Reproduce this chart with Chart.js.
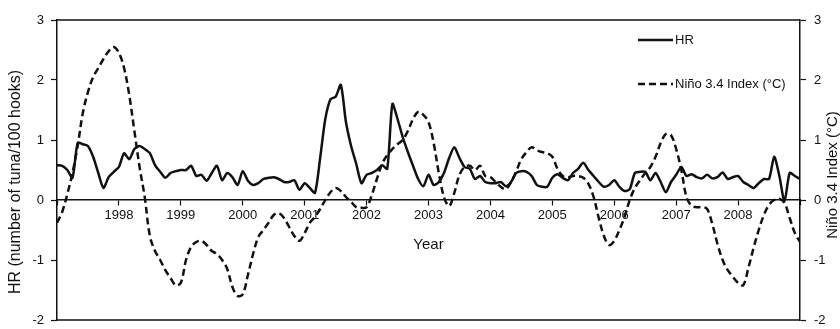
<!DOCTYPE html>
<html>
<head>
<meta charset="utf-8">
<script src="https://cdn.jsdelivr.net/npm/chart.js@4/dist/chart.umd.min.js"></script>
<style>
  html, body { margin: 0; padding: 0; background: #fff; }
  #wrap { width: 840px; height: 329px; }
</style>
</head>
<body>
<div id="wrap"><canvas id="chart"></canvas></div>
<script>
// monthly values, Jan 1997 .. Jan 2009
const startYear = 1997;
const yearTicks = [1998, 1999, 2000, 2001, 2002, 2003, 2004, 2005, 2006, 2007, 2008];

const hr = [
  0.58, 0.57, 0.50, 0.37, 0.95, 0.93, 0.90, 0.72, 0.45, 0.20, 0.38, 0.47,
  0.55, 0.78, 0.68, 0.85, 0.90, 0.85, 0.78, 0.58, 0.47, 0.37, 0.45, 0.48,
  0.50, 0.50, 0.57, 0.40, 0.42, 0.32, 0.45, 0.57, 0.33, 0.45, 0.38, 0.25,
  0.48, 0.32, 0.25, 0.28, 0.35, 0.37, 0.38, 0.35, 0.30, 0.30, 0.33, 0.17,
  0.28, 0.20, 0.12, 0.70, 1.35, 1.68, 1.72, 1.92, 1.30, 0.90, 0.60, 0.28,
  0.42, 0.45, 0.50, 0.58, 0.52, 1.60, 1.35, 1.05, 0.80, 0.57, 0.35, 0.23,
  0.42, 0.25, 0.30, 0.45, 0.70, 0.88, 0.70, 0.55, 0.52, 0.35, 0.40, 0.30,
  0.28, 0.28, 0.30, 0.23, 0.30, 0.45, 0.48, 0.47, 0.40, 0.25, 0.22, 0.22,
  0.37, 0.43, 0.37, 0.33, 0.45, 0.52, 0.62, 0.50, 0.40, 0.30, 0.22, 0.25,
  0.33, 0.22, 0.15, 0.18, 0.45, 0.47, 0.47, 0.33, 0.45, 0.30, 0.13, 0.30,
  0.42, 0.55, 0.40, 0.43, 0.38, 0.36, 0.42, 0.36, 0.38, 0.46, 0.35, 0.38,
  0.40, 0.30, 0.25, 0.20, 0.28, 0.35, 0.35, 0.72, 0.40, -0.02, 0.45, 0.40,
  0.35
];

const nino = [
  -0.38, -0.20, 0.10, 0.45, 0.90, 1.45, 1.80, 2.05, 2.20, 2.35, 2.48, 2.55,
  2.45, 2.20, 1.75, 1.15, 0.55, 0.05, -0.60, -0.85, -1.00, -1.17, -1.30, -1.42,
  -1.38, -1.00, -0.78, -0.70, -0.68, -0.75, -0.85, -0.90, -1.00, -1.15, -1.45, -1.60,
  -1.57, -1.25, -0.90, -0.62, -0.50, -0.38, -0.25, -0.22, -0.30, -0.45, -0.60, -0.68,
  -0.55, -0.38, -0.28, -0.15, 0.00, 0.13, 0.20, 0.15, 0.05, -0.03, -0.12, -0.13,
  -0.12, 0.08, 0.35, 0.60, 0.75, 0.85, 0.93, 1.00, 1.15, 1.35, 1.47, 1.42,
  1.30, 0.95, 0.45, 0.05, -0.10, 0.12, 0.42, 0.55, 0.57, 0.50, 0.57, 0.40,
  0.38, 0.30, 0.22, 0.18, 0.30, 0.48, 0.68, 0.80, 0.88, 0.83, 0.80, 0.78,
  0.72, 0.52, 0.40, 0.38, 0.40, 0.40, 0.37, 0.27, 0.05, -0.30, -0.60, -0.75,
  -0.68, -0.50, -0.28, 0.00, 0.20, 0.33, 0.45, 0.55, 0.72, 0.95, 1.10, 1.08,
  0.85, 0.50, 0.05, -0.10, -0.12, -0.12, -0.15, -0.40, -0.73, -1.00, -1.17, -1.28,
  -1.38, -1.42, -1.13, -0.80, -0.50, -0.25, -0.08, 0.00, 0.02, -0.05, -0.30, -0.55,
  -0.70
];

const toPoints = vals => vals.map((v, i) => ({ x: startYear + i / 12, y: v }));

const FONT = "'Liberation Sans', Arial, sans-serif";

function sideTitle(ctx, text, x, y, size) {
    ctx.save();
    ctx.translate(x, y);
    ctx.rotate(-Math.PI / 2);
    ctx.textAlign = 'center';
    ctx.textBaseline = 'middle';
    ctx.font = size + 'px ' + FONT;
    ctx.fillText(text, 0, 0);
    ctx.restore();
}

// frame lines, legend and the two vertical axis titles
const extras = {
    id: 'extras',
    afterDraw(chart) {
        const { ctx, chartArea: a } = chart;
        ctx.save();
        ctx.strokeStyle = '#111';
        ctx.fillStyle = '#111';
        ctx.lineWidth = 1.5;
        ctx.beginPath();
        ctx.moveTo(a.left, a.top);
        ctx.lineTo(a.right, a.top);
        ctx.moveTo(a.left, a.bottom);
        ctx.lineTo(a.right, a.bottom);
        ctx.stroke();

        // legend
        ctx.font = '13px ' + FONT;
        ctx.textBaseline = 'middle';
        chart.data.datasets.forEach((ds, i) => {
            const y = a.top + 20 + i * 44;
            const x0 = a.right - 162;
            ctx.lineWidth = 2.3;
            ctx.setLineDash(ds.borderDash || []);
            ctx.beginPath();
            ctx.moveTo(x0, y);
            ctx.lineTo(x0 + 35, y);
            ctx.stroke();
            ctx.setLineDash([]);
            ctx.fillText(ds.label, x0 + 37, y);
        });

        sideTitle(ctx, 'HR (number of tuna/100 hooks)', 16, 182, 16);
        sideTitle(ctx, 'Niño 3.4 Index (°C)', 833, 175, 15);
        ctx.restore();
    }
};

const fitY = w => s => {
    s.width = w;
    s.paddingTop = 0;
    s.paddingBottom = 0;
};

new Chart(document.getElementById('chart'), {
    type: 'line',
    data: {
        datasets: [{
            label: 'HR',
            data: toPoints(hr),
            yAxisID: 'y',
            borderColor: '#111',
            borderWidth: 2.5,
            pointRadius: 0,
            tension: 0.25
        }, {
            label: 'Niño 3.4 Index (°C)',
            data: toPoints(nino),
            yAxisID: 'y2',
            borderColor: '#111',
            borderWidth: 2.5,
            borderDash: [7, 4],
            pointRadius: 0,
            tension: 0.35
        }]
    },
    options: {
        responsive: true,
        maintainAspectRatio: false,
        animation: false,
        layout: { padding: { top: 20, bottom: 9, left: 0, right: 0 } },
        plugins: {
            legend: { display: false },
            tooltip: { enabled: false }
        },
        scales: {
            x: {
                type: 'linear',
                position: { y: 0 },
                min: 1997,
                max: 2009,
                afterBuildTicks: s => { s.ticks = [1997].concat(yearTicks, [2009]).map(v => ({ value: v })); },
                ticks: {
                    color: '#111',
                    font: { family: FONT, size: 13 },
                    padding: 3,
                    maxRotation: 0,
                    callback: v => yearTicks.includes(v) ? String(v) : ''
                },
                grid: { drawOnChartArea: false, tickLength: 5, color: '#111', tickWidth: 1.2 },
                border: { color: '#111', width: 1.5 },
                title: {
                    display: true,
                    text: 'Year',
                    color: '#111',
                    font: { family: FONT, size: 15 },
                    padding: { top: 9, bottom: 0 }
                }
            },
            y: {
                position: 'left',
                min: -2,
                max: 3,
                afterFit: fitY(57),
                ticks: {
                    stepSize: 1,
                    color: '#111',
                    font: { family: FONT, size: 13 },
                    padding: 7
                },
                grid: { drawOnChartArea: false, tickLength: 6, color: '#111', tickWidth: 1.2 },
                border: { color: '#111', width: 1.5 }
            },
            y2: {
                position: 'right',
                min: -2,
                max: 3,
                afterFit: fitY(40),
                ticks: {
                    stepSize: 1,
                    color: '#111',
                    font: { family: FONT, size: 13 },
                    padding: 8
                },
                grid: { drawOnChartArea: false, tickLength: 6, color: '#111', tickWidth: 1.2 },
                border: { color: '#111', width: 1.5 }
            }
        }
    },
    plugins: [extras]
});
</script>
</body>
</html>
